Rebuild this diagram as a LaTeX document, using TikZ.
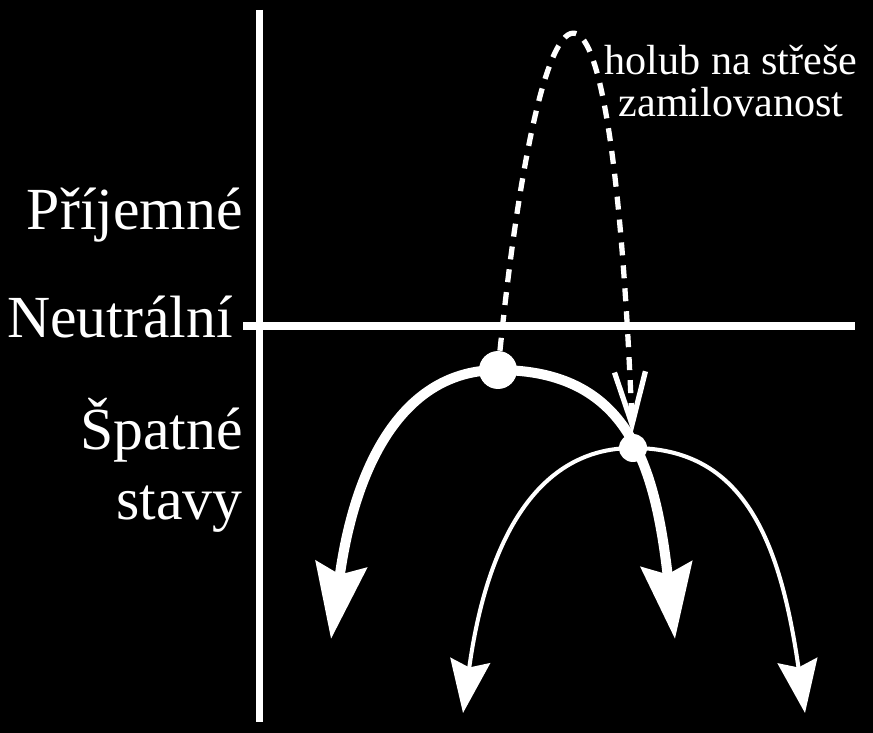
\documentclass[tikz,border=0pt]{standalone}
\usepackage{fontspec}
\setmainfont{Liberation Serif}
\usetikzlibrary{arrows.meta,positioning}

\tikzset{
  axis/.style={draw=white,line width=4pt},
  level/.style={text=white,font=\fontsize{34}{40}\selectfont,inner sep=0pt,align=right},
  note/.style={text=white,font=\fontsize{24}{24}\selectfont,inner sep=0pt,align=center},
  bigdot/.style={circle,fill=white,inner sep=0pt,minimum size=0.76cm},
  smalldot/.style={circle,fill=white,inner sep=0pt,minimum size=0.56cm},
  thickarc/.style={draw=white,line width=5.7pt,-{Stealth[length=1.5cm,width=1.02cm,inset=0.2cm]}},
  thinarc/.style={draw=white,line width=2.3pt,-{Stealth[length=1.06cm,width=0.8cm,inset=0.14cm]}},
  dream/.style={draw=white,line width=3pt,dash pattern=on 0.26cm off 0.2cm,-{Straight Barb[length=1.05cm,width=0.62cm]}}
}

\begin{document}
\begin{tikzpicture}[x=0.02cm,y=-0.02cm]
  \fill[black] (0,0) rectangle (873,733);
  \useasboundingbox (0,0) rectangle (873,733);
  % axes
  \coordinate (top) at (259.5,10);
  \coordinate (bottom) at (259.5,722);
  \coordinate (left) at (243,326);
  \coordinate (right) at (855,326);
  \draw[axis] (top) -- (bottom);
  \draw[axis] (left) -- (right);
  % levels
  \node(pleasant) [level,anchor=base east] at (243,230) {Příjemné};
  \node(neutral)  [level,anchor=base east] at (233,338) {Neutrální};
  \node(bad)      [level,anchor=base east] at (243,520) {Špatné\\stavy};
  % states
  \node(wish) [bigdot]   at (498,370) {};
  \node(hope) [smalldot] at (633,448) {};
  \coordinate (wishL) at (331,639);
  \coordinate (wishR) at (675,639);
  \coordinate (hopeL) at (463,713);
  \coordinate (hopeR) at (805,713);
  \draw[thickarc] (wish.center) .. controls (403,370) and (355,465) .. (wishL);
  \draw[thickarc] (wish.center) .. controls (628,370) and (655,465) .. (wishR);
  \draw[thinarc]  (hope.center) .. controls (538,448) and (487,539) .. (hopeL);
  \draw[thinarc]  (hope.center) .. controls (743,448) and (780,539) .. (hopeR);
  \draw[dream]    (wish) .. controls (540,-42) and (610,-127) .. (hope);
  \node(dreamtext) [note,anchor=base] at (731,117) {holub na střeše\\zamilovanost};
\end{tikzpicture}
\end{document}
